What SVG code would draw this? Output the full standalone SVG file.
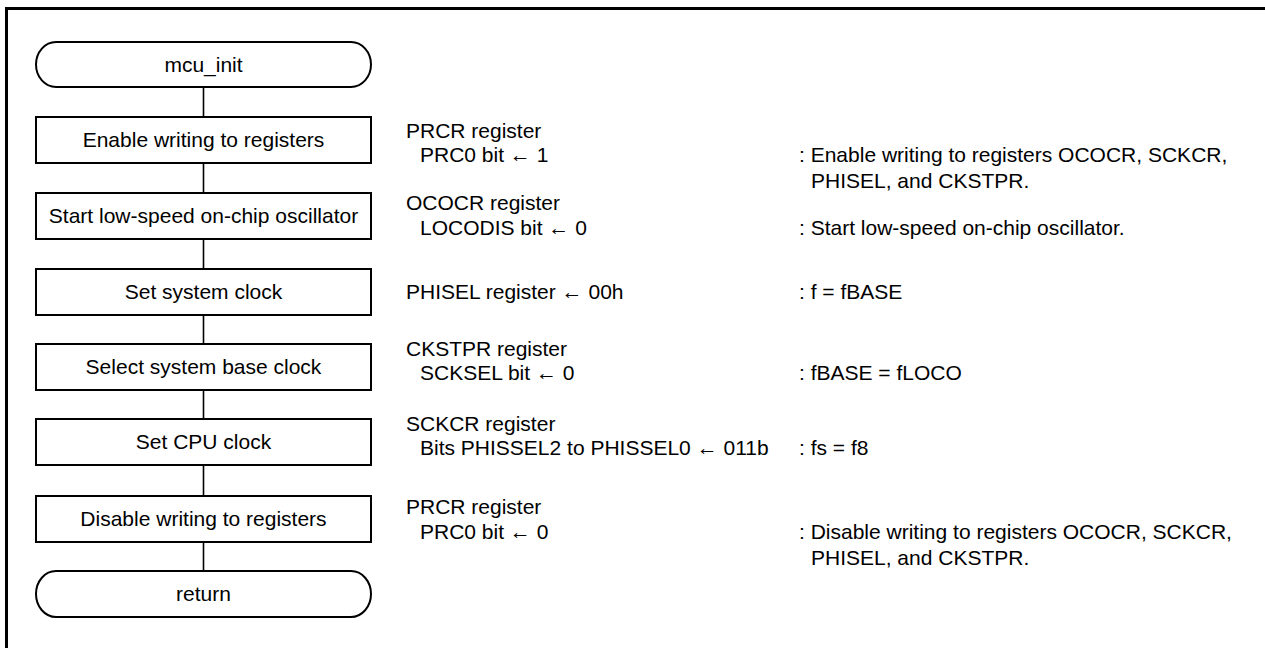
<svg xmlns="http://www.w3.org/2000/svg" width="1265" height="648" viewBox="0 0 1265 648">
  <style>
    .frame { fill: none; stroke: #000; stroke-width: 3; }
    .box { fill: #fff; stroke: #000; stroke-width: 2; }
    .link { fill: none; stroke: #000; stroke-width: 1.6; }
    text { font-family: "Liberation Sans", Arial, sans-serif; font-size: 21px; fill: #000; }
    .c { text-anchor: middle; }
  </style>

  <!-- page frame (top and left edges) -->
  <path class="frame" d="M6.5 648 V8.5 H1265"/>

  <!-- flow connectors -->
  <g id="connectors">
    <line class="link" x1="203.5" y1="87" x2="203.5" y2="117"/>
    <line class="link" x1="203.5" y1="163" x2="203.5" y2="193"/>
    <line class="link" x1="203.5" y1="239" x2="203.5" y2="269"/>
    <line class="link" x1="203.5" y1="315" x2="203.5" y2="344"/>
    <line class="link" x1="203.5" y1="390" x2="203.5" y2="419"/>
    <line class="link" x1="203.5" y1="465" x2="203.5" y2="496"/>
    <line class="link" x1="203.5" y1="542" x2="203.5" y2="571"/>
  </g>

  <g id="start">
    <rect class="box" x="36" y="42" width="335" height="45" rx="20" ry="22.5"/>
    <text class="c" x="203.5" y="72">mcu_init</text>
  </g>

  <g id="enable-write">
    <rect class="box" x="36" y="117" width="335" height="46"/>
    <text class="c" x="203.5" y="147">Enable writing to registers</text>
    <text x="406" y="138">PRCR register</text>
    <text x="420" y="162">PRC0 bit ← 1</text>
    <text x="799" y="162">: Enable writing to registers OCOCR, SCKCR,</text>
    <text x="811" y="188">PHISEL, and CKSTPR.</text>
  </g>

  <g id="start-loco">
    <rect class="box" x="36" y="193" width="335" height="46"/>
    <text class="c" x="203.5" y="223">Start low-speed on-chip oscillator</text>
    <text x="406" y="210">OCOCR register</text>
    <text x="420" y="235">LOCODIS bit ← 0</text>
    <text x="799" y="235">: Start low-speed on-chip oscillator.</text>
  </g>

  <g id="set-system-clock">
    <rect class="box" x="36" y="269" width="335" height="46"/>
    <text class="c" x="203.5" y="299">Set system clock</text>
    <text x="406" y="299">PHISEL register ← 00h</text>
    <text x="799" y="299">: f = fBASE</text>
  </g>

  <g id="select-base-clock">
    <rect class="box" x="36" y="344" width="335" height="46"/>
    <text class="c" x="203.5" y="374">Select system base clock</text>
    <text x="406" y="356">CKSTPR register</text>
    <text x="420" y="380">SCKSEL bit ← 0</text>
    <text x="799" y="380">: fBASE = fLOCO</text>
  </g>

  <g id="set-cpu-clock">
    <rect class="box" x="36" y="419" width="335" height="46"/>
    <text class="c" x="203.5" y="449">Set CPU clock</text>
    <text x="406" y="431">SCKCR register</text>
    <text x="420" y="455">Bits PHISSEL2 to PHISSEL0 ← 011b</text>
    <text x="799" y="455">: fs = f8</text>
  </g>

  <g id="disable-write">
    <rect class="box" x="36" y="496" width="335" height="46"/>
    <text class="c" x="203.5" y="526">Disable writing to registers</text>
    <text x="406" y="514">PRCR register</text>
    <text x="420" y="539">PRC0 bit ← 0</text>
    <text x="799" y="539">: Disable writing to registers OCOCR, SCKCR,</text>
    <text x="811" y="565">PHISEL, and CKSTPR.</text>
  </g>

  <g id="end">
    <rect class="box" x="36" y="571" width="335" height="46" rx="20" ry="23"/>
    <text class="c" x="203.5" y="601">return</text>
  </g>
</svg>
